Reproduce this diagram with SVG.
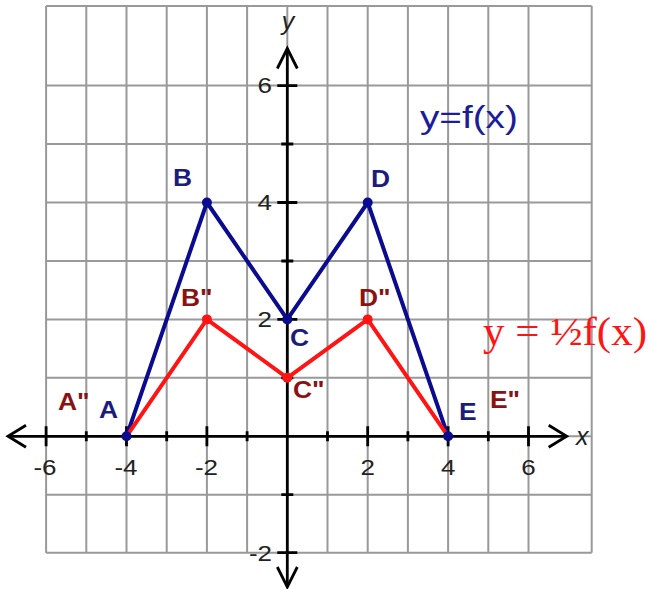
<svg xmlns="http://www.w3.org/2000/svg" width="650" height="589" viewBox="0 0 650 589">
<style>
.grid{stroke:#999;stroke-width:2;fill:none}
.axis{stroke:#000;stroke-width:2.8;fill:none}
.arrow{stroke:#000;stroke-width:2.8;fill:none;stroke-linejoin:miter}
.tick{stroke:#000;stroke-width:2.8}
.num{font-family:"Liberation Sans",Arial,sans-serif;font-size:22px;fill:#222}
.axl{font-family:"Liberation Sans",Arial,sans-serif;font-size:25px;font-style:italic;fill:#222}
.blue{stroke:#0b0b8f;stroke-width:4;fill:none;stroke-linejoin:round}
.red{stroke:#ff1414;stroke-width:4;fill:none;stroke-linejoin:round}
.bdot{fill:#0b0b8f}
.rdot{fill:#ff1414}
.bl{font-family:"Liberation Sans",Arial,sans-serif;font-size:24px;font-weight:bold;fill:#1c1c7c}
.rl{font-family:"Liberation Sans",Arial,sans-serif;font-size:24px;font-weight:bold;fill:#8b1212}
</style>
<rect width="650" height="589" fill="#fff"/>
<g id="grid" class="grid">
<path d="M46.1 6V552.7M86.3 6V552.7M126.5 6V552.7M166.7 6V552.7M206.9 6V552.7M247.1 6V552.7M287.3 6V552.7M327.5 6V552.7M367.7 6V552.7M407.9 6V552.7M448.1 6V552.7M488.3 6V552.7M528.5 6V552.7M591.7 6V552.7"/>
<path d="M46.1 6H591.7M46.1 85.6H591.7M46.1 144H591.7M46.1 202.5H591.7M46.1 261H591.7M46.1 319.4H591.7M46.1 377.8H591.7M46.1 436.3H591.7M46.1 494.7H591.7M46.1 552.7H591.7"/>
</g>
<g id="axes">
<line class="axis" x1="8" y1="436.3" x2="566.7" y2="436.3"/>
<line class="axis" x1="287.3" y1="48.5" x2="287.3" y2="587"/>
<polyline class="arrow" points="26,425.3 8,436.3 26,447.3"/>
<polyline class="arrow" points="548.7,425.3 566.7,436.3 548.7,447.3"/>
<polyline class="arrow" points="277.3,68.5 287.3,48.5 297.3,68.5"/>
<polyline class="arrow" points="277.3,567 287.3,587 297.3,567"/>
<path class="tick" d="M46.1 426.3V446.3M126.5 426.3V446.3M206.9 426.3V446.3M367.7 426.3V446.3M448.1 426.3V446.3M528.5 426.3V446.3M86.3 431.3V441.3M166.7 431.3V441.3M247.1 431.3V441.3M327.5 431.3V441.3M407.9 431.3V441.3M488.3 431.3V441.3"/>
<path class="tick" d="M277.3 85.6H297.3M277.3 202.5H297.3M277.3 319.4H297.3M277.3 552.7H297.3M281.3 144H293.3M281.3 261H293.3M281.3 377.8H293.3M281.3 494.7H293.3"/>
<g class="num" text-anchor="middle">
<text transform="matrix(1.18 0 0 1 45 474.5)">-6</text>
<text transform="matrix(1.18 0 0 1 126 474.5)">-4</text>
<text transform="matrix(1.18 0 0 1 206.5 474.5)">-2</text>
<text transform="matrix(1.18 0 0 1 367.7 474.5)">2</text>
<text transform="matrix(1.18 0 0 1 448.1 474.5)">4</text>
<text transform="matrix(1.18 0 0 1 528.5 474.5)">6</text>
</g>
<g class="num" text-anchor="end">
<text transform="matrix(1.18 0 0 1 272 93)">6</text>
<text transform="matrix(1.18 0 0 1 272 210)">4</text>
<text transform="matrix(1.18 0 0 1 272 327)">2</text>
<text transform="matrix(1.18 0 0 1 272 561)">-2</text>
</g>
<text class="axl" x="288" y="30" text-anchor="middle">y</text>
<text class="axl" x="576" y="445">x</text>
</g>
<g id="connectors">
<polyline id="f" class="blue" points="126.5,436.3 206.9,202.5 287.3,319.4 367.7,202.5 448.1,436.3"/>
<polyline id="halff" class="red" points="126.5,436.3 206.9,319.4 287.3,377.8 367.7,319.4 448.1,436.3"/>
</g>
<g id="node-A"><circle class="bdot" cx="126.5" cy="436.3" r="5"/><text class="bl" transform="matrix(1.1 0 0 1 99 418)">A</text></g>
<g id="node-B"><circle class="bdot" cx="206.9" cy="202.5" r="5"/><text class="bl" transform="matrix(1.1 0 0 1 173 186)">B</text></g>
<g id="node-C"><circle class="bdot" cx="287.3" cy="319.4" r="5"/><text class="bl" transform="matrix(1.1 0 0 1 290 346)">C</text></g>
<g id="node-D"><circle class="bdot" cx="367.7" cy="202.5" r="5"/><text class="bl" transform="matrix(1.1 0 0 1 371 187)">D</text></g>
<g id="node-E"><circle class="bdot" cx="448.1" cy="436.3" r="5"/><text class="bl" transform="matrix(1.1 0 0 1 459 420)">E</text></g>
<g id="node-A2"><text class="rl" transform="matrix(1.1 0 0 1 58 410)">A"</text></g>
<g id="node-B2"><circle class="rdot" cx="206.9" cy="319.4" r="5"/><text class="rl" transform="matrix(1.1 0 0 1 181 306)">B"</text></g>
<g id="node-C2"><circle class="rdot" cx="287.3" cy="377.8" r="5"/><text class="rl" transform="matrix(1.1 0 0 1 293 398)">C"</text></g>
<g id="node-D2"><circle class="rdot" cx="367.7" cy="319.4" r="5"/><text class="rl" transform="matrix(1.1 0 0 1 359 306)">D"</text></g>
<g id="node-E2"><text class="rl" transform="matrix(1.1 0 0 1 490 408)">E"</text></g>
<g id="label-f"><text transform="matrix(1.21 0 0 1 420 128)" font-family="Liberation Sans,Arial,sans-serif" font-size="32" fill="#1c1c9a">y=f(x)</text></g>
<g id="label-halff"><text x="483" y="345" textLength="164" lengthAdjust="spacingAndGlyphs" font-family="Liberation Serif,Times New Roman,serif" font-size="40" fill="#ff1414">y = ½f(x)</text></g>
</svg>
